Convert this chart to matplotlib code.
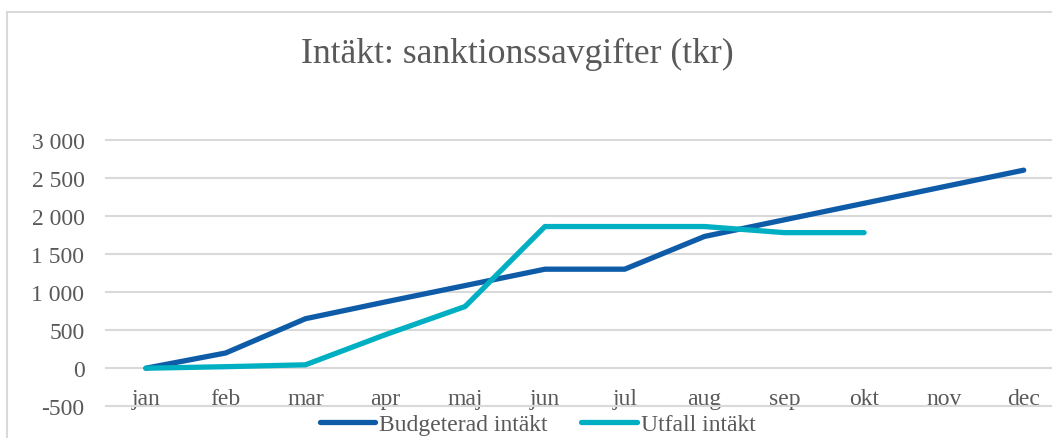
import matplotlib
matplotlib.use("Agg")
import matplotlib.pyplot as plt
from matplotlib.patches import Rectangle
from matplotlib.ticker import FuncFormatter, FixedLocator

plt.rcParams.update({
    "font.family": ["Liberation Serif", "DejaVu Serif"],
    "font.size": 17,
})

TXT = "#595959"
GRID = "#D9D9D9"

months = ["jan", "feb", "mar", "apr", "maj", "jun", "jul", "aug", "sep", "okt", "nov", "dec"]
budget = [0, 200, 650, 870, 1085, 1300, 1300, 1730, 1948, 2165, 2383, 2600]
utfall = [0, 20, 45, 440, 810, 1860, 1860, 1860, 1780, 1780]
yticks = [-500, 0, 500, 1000, 1500, 2000, 2500, 3000]

W, H = 1052, 439
# plot area runs past the right edge of the picture (chart is cropped there)
left, step = 106.0, 79.8
fig = plt.figure(figsize=(W / 100, H / 100), dpi=100)
ax = fig.add_axes([left / W, 1 - 407.3 / H, 12 * step / W, (407.3 - 140.7) / H])

ax.plot(range(len(budget)), budget, color="#0E5CA8", lw=3.8,
        solid_capstyle="round", solid_joinstyle="round", label="Budgeterad intäkt", zorder=3)
ax.plot(range(len(utfall)), utfall, color="#00AFC2", lw=3.8,
        solid_capstyle="round", solid_joinstyle="round", label="Utfall intäkt", zorder=3)

ax.set_xlim(-0.5, len(months) - 0.5)
ax.set_ylim(-500, 3000)
ax.yaxis.set_major_locator(FixedLocator(yticks))
ax.yaxis.set_major_formatter(FuncFormatter(lambda v, p: f"{int(v):,}".replace(",", " ")))
ax.grid(axis="y", color=GRID, lw=1.5)
for gl in ax.get_ygridlines():
    gl.set_clip_on(False)
ax.set_axisbelow(True)

ax.set_xticks(range(len(months)))
ax.set_xticklabels(months)
ax.spines["bottom"].set_position(("data", 0))
for s in ax.spines.values():
    s.set_visible(False)
ax.tick_params(axis="x", length=0, pad=14, colors=TXT, labelsize=17)
ax.tick_params(axis="y", length=0, pad=15.5, colors=TXT, labelsize=17)

fig.text(517.5 / W, 1 - 63.3 / H, "Intäkt: sanktionssavgifter (tkr)", ha="center",
         va="baseline", fontsize=25.7, color=TXT)

fig.legend(loc="center", bbox_to_anchor=(537.5 / W, 1 - 425 / H), ncol=2, frameon=False,
           handlelength=2.35, handletextpad=0.15, columnspacing=1.45, fontsize=17,
           labelcolor=TXT, borderpad=0, borderaxespad=0)

fig.patches.append(Rectangle((7 / W, -0.2), 1.2, 1.2 - 13 / H, transform=fig.transFigure,
                             fill=False, ec=GRID, lw=1.5))

fig.savefig("out.png", dpi=100)
